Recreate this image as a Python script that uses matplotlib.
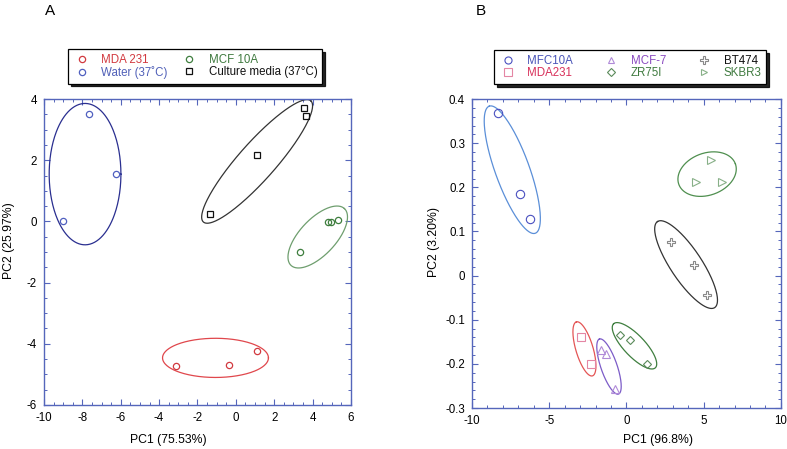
import matplotlib
matplotlib.use("Agg")
import matplotlib.pyplot as plt
import numpy as np
from matplotlib.ticker import MultipleLocator, FuncFormatter

plt.rcParams['font.family'] = ['Liberation Sans', 'DejaVu Sans']
plt.rcParams['axes.unicode_minus'] = False

# ---- panel A data (PC1, PC2) ----
a_labels = ['MDA 231', 'Water (37˚C)', 'MCF 10A', 'Culture media (37°C)']
a_mda_x = [-3.11, -0.36, 1.08]
a_mda_y = [-4.73, -4.69, -4.24]
a_water_x = [-7.63, -6.24, -8.99]
a_water_y = [3.50, 1.55, 0.01]
a_mcf_x = [4.78, 4.95, 5.32, 3.35]
a_mcf_y = [-0.01, -0.03, 0.06, -1.00]
a_media_x = [3.56, 3.68, 1.10, -1.37]
a_media_y = [3.70, 3.45, 2.17, 0.25]

# ellipses: centre, two conjugate half-axis vectors (data units)
a_ell_mda = [(-1.06, -4.46), (2.76, 0.0), (0.0, 0.64)]
a_ell_water = [(-7.86, 1.545), (1.87, 0.0), (0.0, 2.31)]
a_ell_mcf = [(4.27, -0.51), (1.39, 0.93), (-0.69, 0.40)]
a_ell_media = [(1.11, 1.96), (2.80, 1.98), (-0.72, 0.40)]

# ---- panel B data ----
b_labels = ['MFC10A', 'MDA231', 'MCF-7', 'ZR75I', 'BT474', 'SKBR3']
b_mfc_x = [-8.32, -6.87, -6.27]
b_mfc_y = [0.368, 0.184, 0.128]
b_mda_x = [-2.94, -2.29]
b_mda_y = [-0.138, -0.200]
b_mcf7_x = [-1.64, -1.32, -0.73]
b_mcf7_y = [-0.168, -0.178, -0.257]
b_zr_x = [-0.45, 0.22, 1.32]
b_zr_y = [-0.135, -0.147, -0.200]
b_bt_x = [2.90, 4.36, 5.23]
b_bt_y = [0.077, 0.023, -0.045]
b_sk_x = [5.45, 4.50, 6.16]
b_sk_y = [0.261, 0.213, 0.212]

b_ell_mfc = [(-7.39, 0.240), (-1.49, 0.144), (1.04, 0.0131)]
b_ell_mda = [(-2.72, -0.166), (-0.519, 0.0612), (0.535, 0.0055)]
b_ell_mcf7 = [(-1.13, -0.206), (-0.616, 0.0624), (0.496, 0.006)]
b_ell_zr = [(0.52, -0.159), (-1.35, 0.0499), (0.499, 0.0165)]
b_ell_bt = [(3.86, 0.025), (-1.85, 0.0975), (0.843, 0.0195)]
b_ell_sk = [(5.22, 0.230), (1.83, 0.0233), (-0.466, 0.0448)]

spine_col = '#5566bb'


def draw_ellipse(ax, ell, color):
    c, u, v = ell
    t = np.linspace(0, 2 * np.pi, 300)
    x = c[0] + u[0] * np.cos(t) + v[0] * np.sin(t)
    y = c[1] + u[1] * np.cos(t) + v[1] * np.sin(t)
    ax.plot(x, y, color=color, lw=0.9)


def style_axes(ax):
    for s in ax.spines.values():
        s.set_color(spine_col)
        s.set_linewidth(1.0)
    ax.tick_params(which='both', direction='in', top=True, right=True,
                   colors=spine_col, labelcolor='black', labelsize=8.3, pad=5)
    ax.tick_params(which='major', length=4, width=0.8)
    ax.tick_params(which='minor', length=2.5, width=0.7)
    ax.xaxis.set_major_formatter(FuncFormatter(lambda v, p: '%g' % round(v, 6)))
    ax.yaxis.set_major_formatter(FuncFormatter(lambda v, p: '%g' % round(v, 6)))


fig = plt.figure(figsize=(7.87, 4.49), dpi=100)

# ================= Panel A =================
axA = fig.add_axes([0.0559, 0.098, 0.390, 0.6815])
draw_ellipse(axA, a_ell_mda, '#e0474c')
draw_ellipse(axA, a_ell_water, '#2a2f90')
draw_ellipse(axA, a_ell_mcf, '#6e9e6e')
draw_ellipse(axA, a_ell_media, '#333333')
mk = dict(ls='none', mfc='none', mew=0.9)
axA.plot(a_mda_x, a_mda_y, 'o', ms=4.5, mec='#d23a40', label=a_labels[0], **mk)
axA.plot(a_water_x, a_water_y, 'o', ms=4.5, mec='#5060c0', label=a_labels[1], **mk)
axA.plot(a_mcf_x, a_mcf_y, 'o', ms=4.5, mec='#3f7f3f', label=a_labels[2], **mk)
axA.plot(a_media_x, a_media_y, 's', ms=4.8, mec='#111111', label=a_labels[3], **mk)
axA.set_xlim(-10, 6)
axA.set_ylim(-6, 4)
axA.xaxis.set_major_locator(MultipleLocator(2))
axA.xaxis.set_minor_locator(MultipleLocator(0.5))
axA.yaxis.set_major_locator(MultipleLocator(2))
axA.yaxis.set_minor_locator(MultipleLocator(0.5))
style_axes(axA)
axA.set_xlabel('PC1 (75.53%)', fontsize=8.8)
axA.set_ylabel('PC2 (25.97%)', fontsize=8.8)
axA.xaxis.set_label_coords(0.404, -0.095)
axA.yaxis.set_label_coords(-0.095, 0.536)

h, l = axA.get_legend_handles_labels()
legA = axA.legend(h, l, ncol=2, loc='center', mode='expand',
                  bbox_to_anchor=(62 / 787, 1 - 83 / 449, 266 / 787, 33 / 449),
                  bbox_transform=fig.transFigure, fontsize=8.3, frameon=True,
                  fancybox=False, edgecolor='black', labelspacing=0.02,
                  handlelength=1.6, handletextpad=0.9, borderpad=0.4,
                  columnspacing=1.0,
                  shadow={'color': 'black', 'alpha': 0.85, 'ox': 2, 'oy': -2})
legA.get_frame().set_linewidth(0.9)
for txt, col in zip(legA.get_texts(), ['#d23a40', '#5060b8', '#3f7a3f', '#111111']):
    txt.set_color(col)

# ================= Panel B =================
axB = fig.add_axes([0.5997, 0.0913, 0.3926, 0.688])
draw_ellipse(axB, b_ell_mfc, '#5b8fd8')
draw_ellipse(axB, b_ell_mda, '#e45555')
draw_ellipse(axB, b_ell_mcf7, '#7c5cc8')
draw_ellipse(axB, b_ell_zr, '#3f7f3f')
draw_ellipse(axB, b_ell_bt, '#333333')
draw_ellipse(axB, b_ell_sk, '#4f8f4f')
mk = dict(ls='none', mfc='none', mew=0.8)
axB.plot(b_mfc_x, b_mfc_y, 'o', ms=6, mec='#4a50c0', label=b_labels[0], **mk)
axB.plot(b_mda_x, b_mda_y, 's', ms=6, mec='#e486a4', label=b_labels[1], **mk)
axB.plot(b_mcf7_x, b_mcf7_y, '^', ms=5.5, mec='#b08ad8', label=b_labels[2], **mk)
axB.plot(b_zr_x, b_zr_y, 'D', ms=4.5, mec='#5a8a5a', label=b_labels[3], **mk)
axB.plot(b_bt_x, b_bt_y, 'P', ms=6, mec='#888888', label=b_labels[4], **mk)
axB.plot(b_sk_x, b_sk_y, '>', ms=5.5, mec='#88b088', label=b_labels[5], **mk)
axB.set_xlim(-10, 10)
axB.set_ylim(-0.3, 0.4)
axB.xaxis.set_major_locator(MultipleLocator(5))
axB.xaxis.set_minor_locator(MultipleLocator(1))
axB.yaxis.set_major_locator(MultipleLocator(0.1))
axB.yaxis.set_minor_locator(MultipleLocator(0.02))
style_axes(axB)
axB.set_xlabel('PC1 (96.8%)', fontsize=8.8)
axB.set_ylabel('PC2 (3.20%)', fontsize=8.8)
axB.xaxis.set_label_coords(0.602, -0.085)
axB.yaxis.set_label_coords(-0.105, 0.537)

h, l = axB.get_legend_handles_labels()
legB = axB.legend(h, l, ncol=3, loc='center', mode='expand',
                  bbox_to_anchor=(488 / 787, 1 - 83 / 449, 284 / 787, 32 / 449),
                  bbox_transform=fig.transFigure, fontsize=8.3, frameon=True,
                  fancybox=False, edgecolor='black', labelspacing=0.02,
                  handlelength=1.6, handletextpad=0.9, borderpad=0.4,
                  columnspacing=1.0, markerscale=0.85,
                  shadow={'color': 'black', 'alpha': 0.85, 'ox': 2, 'oy': -2})
legB.get_frame().set_linewidth(0.9)
for txt, col in zip(legB.get_texts(),
                    ['#4a55b8', '#d8305a', '#8a4ac0', '#3f7a3f', '#111111', '#3f7a3f']):
    txt.set_color(col)

fig.text(50 / 787, 1 - 11 / 449, 'A', fontsize=11, ha='center', va='center')
fig.text(481 / 787, 1 - 11 / 449, 'B', fontsize=11, ha='center', va='center')

fig.savefig('out.png', dpi=100)
